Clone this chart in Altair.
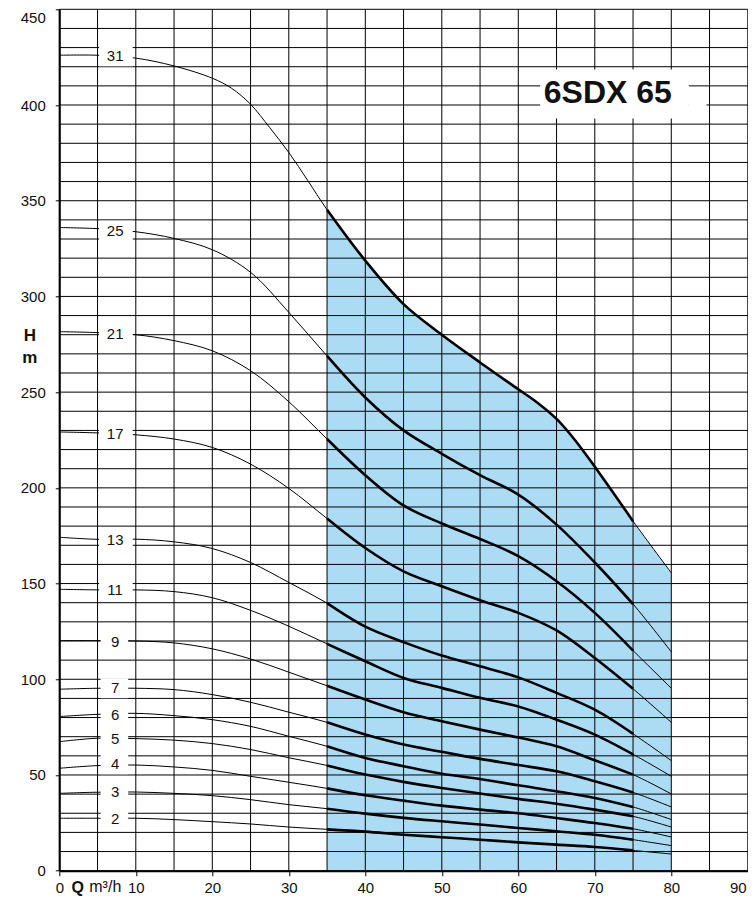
import altair as alt
import pandas as pd

FONT = "Liberation Sans"
INTERP = "catmull-rom"

# ---- data ----
STAGES = [31, 25, 21, 17, 13, 11, 9, 7, 6, 5, 4, 3, 2]
LABEL_Y = [425.4, 334.4, 280.3, 228, 172.8, 146.7, 119.6, 95.3, 81.3, 68.8, 55.6, 41, 26.9]

Q = [0, 5, 10, 15, 20, 25, 30, 35, 40, 45, 50, 55, 60, 65, 70, 75, 80]
Q_31 = [0, 5, 10, 15, 20, 22.5, 25, 27.5, 30, 32.5, 35, 40, 45, 50, 55, 60, 62.5, 65, 67.5, 70, 75, 80]
H_31 = [426, 426, 424.5, 420.4, 414, 408.8, 400.4, 388.2, 375.2, 360.4, 345.3, 318.7, 296, 280, 265.5, 251.5, 244.5, 236, 224.5, 211, 182.6, 155.6]
H_25 = [336, 335.4, 333.8, 330.3, 324.4, 312.6, 291.7, 268.9, 247.2, 230, 217.8, 206.6, 196.5, 180.8, 161, 139.3, 114.3]
H_21 = [281.6, 281.1, 280, 276.9, 271.6, 261.2, 245, 225.5, 206.6, 190.8, 181.4, 173.3, 164.3, 151.2, 134.7, 115, 95.3]
H_17 = [229.2, 228.7, 227.7, 225.5, 221.1, 212.4, 199.7, 184, 168.6, 156.4, 148.6, 141.3, 134.7, 125.5, 111.1, 95, 77.5]
H_13 = [174.2, 173.1, 173.2, 171.8, 168.3, 161, 150.6, 139.8, 127.5, 119.4, 112.4, 106.8, 101, 92.9, 84.1, 71.5, 57.5]
H_11 = [147, 146.7, 146.7, 145.8, 142.6, 136, 127.7, 118.5, 109.4, 100.7, 95.5, 90.3, 85.8, 78.9, 71.1, 60.8, 49.3]
H_9 = [120.2, 120.2, 120, 119, 115.9, 110.6, 103.7, 96.6, 89.4, 82.8, 78.1, 73.7, 69.6, 65, 57.7, 50.2, 40.1]
H_7 = [94.8, 95.3, 95.3, 94.6, 92, 88, 82.8, 77.5, 71.1, 65.9, 62.1, 58.4, 55.2, 51.9, 46.7, 40.9, 33.3]
H_6 = [80.5, 81.7, 82.2, 81, 78.9, 75.4, 70.2, 65, 58.9, 54.6, 50.6, 47.9, 44.6, 41.5, 38, 33.3, 26.7]
H_5 = [67.4, 69.2, 69, 68.2, 66.4, 63.3, 59, 55, 50.2, 46.4, 43.2, 40.3, 37.5, 35, 31.9, 28.4, 22.8]
H_4 = [53.5, 54.9, 55.2, 54.2, 52.4, 49.3, 46.2, 43, 39.4, 36.6, 34, 31.9, 30, 27.5, 24.9, 21.9, 17.6]
H_3 = [40.4, 41, 41.1, 40.4, 39.2, 37.1, 34.5, 32.4, 29.8, 27.6, 25.8, 24.1, 22.3, 20.6, 18.8, 16.2, 13.1]
H_2 = [27.4, 27.4, 27.4, 26.7, 25.6, 24.4, 22.8, 21.6, 20.4, 18.8, 17.5, 16.2, 14.8, 13.6, 12.4, 10.6, 8.7]

MODEL = "6SDX 65"
UNIT = "m³/h"
X_TICKS = list(range(0, 91, 10))
Y_TICKS = list(range(0, 451, 50))

# ---- tables ----
curves = {31: (Q_31, H_31), 25: (Q, H_25), 21: (Q, H_21), 17: (Q, H_17), 13: (Q, H_13),
          11: (Q, H_11), 9: (Q, H_9), 7: (Q, H_7), 6: (Q, H_6), 5: (Q, H_5),
          4: (Q, H_4), 3: (Q, H_3), 2: (Q, H_2)}
rows = []
for n, (qs, hs) in curves.items():
    for q, h in zip(qs, hs):
        rows.append({"stage": n, "q": q, "h": h})
df = pd.DataFrame(rows)
env = df[(df.stage == 31) & (df.q >= 35)]

labels = pd.DataFrame({
    "t": [str(n) for n in STAGES],
    "lx": [7.3] * len(STAGES),
    "ly": LABEL_Y,
    "bx": [5.2 if n >= 10 else 5.4 for n in STAGES],
    "bx2": [9.6 if n >= 10 else 9.0 for n in STAGES],
    "by": [v - 5.2 for v in LABEL_Y],
    "by2": [v + 5.2 for v in LABEL_Y],
})

hgrid = pd.DataFrame({"g": list(range(0, 451, 10)), "a": 0, "b": 90})
vgrid = pd.DataFrame({"g": list(range(0, 91, 5)), "a": 0, "b": 450})

xs = alt.Scale(domain=[0, 90], nice=False, zero=False)
ys = alt.Scale(domain=[0, 450], nice=False, zero=False)

x_axis = alt.Axis(values=X_TICKS, grid=False, tickSize=5, tickColor="black", tickWidth=1,
                  domainColor="black", domainWidth=2, labelFont=FONT, labelFontSize=15,
                  labelColor="#111", labelPadding=5, labelFlush=False, labelOverlap=False,
                  labelOffset={"condition": {"test": "datum.value === 90", "value": -10}, "value": 0},
                  title="Q", titleFont=FONT, titleFontSize=16, titleFontWeight="bold",
                  titleColor="#111", titleX=11.7, titleY=21.5, titleAlign="left",
                  titleBaseline="alphabetic", zindex=1)
y_axis = alt.Axis(values=Y_TICKS, grid=False, tickSize=4, tickColor="black", tickWidth=1,
                  domainColor="black", domainWidth=2, labelFont=FONT, labelFontSize=15,
                  labelColor="#111", labelPadding=10, labelOverlap=False,
                  labelOffset={"condition": {"test": "datum.value === 450", "value": 8}, "value": 0},
                  title=["H", "m"], titleAngle=0, titleX=-30, titleY=331, titleAlign="center",
                  titleBaseline="alphabetic", titleLineHeight=22, titleFont=FONT,
                  titleFontSize=17, titleFontWeight="bold", titleColor="#111", zindex=1)


def X(field):
    return alt.X(field, scale=xs, axis=x_axis)


def Y(field):
    return alt.Y(field, scale=ys, axis=y_axis)


area = alt.Chart(env).mark_area(color="#acdcf4", interpolate=INTERP).encode(
    x=X("q:Q"), y=Y("h:Q"), y2=alt.Y2(datum=0))

hg = alt.Chart(hgrid).mark_rule(color="black", strokeWidth=1).encode(
    y=Y("g:Q"), x=X("a:Q"), x2="b:Q")
vg = alt.Chart(vgrid).mark_rule(color="black", strokeWidth=1).encode(
    x=X("g:Q"), y=Y("a:Q"), y2="b:Q")

thin = alt.Chart(df).mark_line(color="black", strokeWidth=1, interpolate=INTERP).encode(
    x=X("q:Q"), y=Y("h:Q"), detail="stage:N", order="q:Q")
thick = alt.Chart(df).transform_filter("datum.q >= 35 && datum.q <= 75").mark_line(
    color="black", strokeWidth=2.6, interpolate=INTERP).encode(
    x=X("q:Q"), y=Y("h:Q"), detail="stage:N", order="q:Q")

boxes = alt.Chart(labels).mark_rect(color="white").encode(
    x=X("bx:Q"), x2="bx2:Q", y=Y("by:Q"), y2="by2:Q")
ltext = alt.Chart(labels).mark_text(font=FONT, fontSize=15, color="#111",
                                    align="center", baseline="middle").encode(
    x=X("lx:Q"), y=Y("ly:Q"), text="t:N")

tbox = alt.Chart(pd.DataFrame({"x": [62.86, 82.3], "x2": [82.3, 84.6],
                               "y": [393.0, 393.0], "y2": [418.5, 405.0]})).mark_rect(
    color="white").encode(x=X("x:Q"), x2="x2:Q", y=Y("y:Q"), y2="y2:Q")
ttext = alt.Chart(pd.DataFrame({"t": [MODEL], "x": [71.7], "y": [406.2]})).mark_text(
    font=FONT, fontSize=32, fontWeight="bold", color="#111",
    align="center", baseline="middle").encode(x=X("x:Q"), y=Y("y:Q"), text="t:N")

unit = alt.Chart(pd.DataFrame({"t": [UNIT]})).mark_text(
    font=FONT, fontSize=16, color="#111", align="left", baseline="alphabetic").encode(
    x=alt.value(30), y=alt.value(882.5), text="t:N")

chart = alt.layer(area, hg, vg, thin, thick, boxes, ltext, tbox, ttext, unit).properties(
    width=688.5, height=861.4,
    autosize=alt.AutoSizeParams(type="none"),
    padding={"left": 51.3, "top": 1.3, "right": 0, "bottom": 27},
).configure_view(stroke=None)

chart.save("out.html", embed_options={"renderer": "svg", "actions": False})
